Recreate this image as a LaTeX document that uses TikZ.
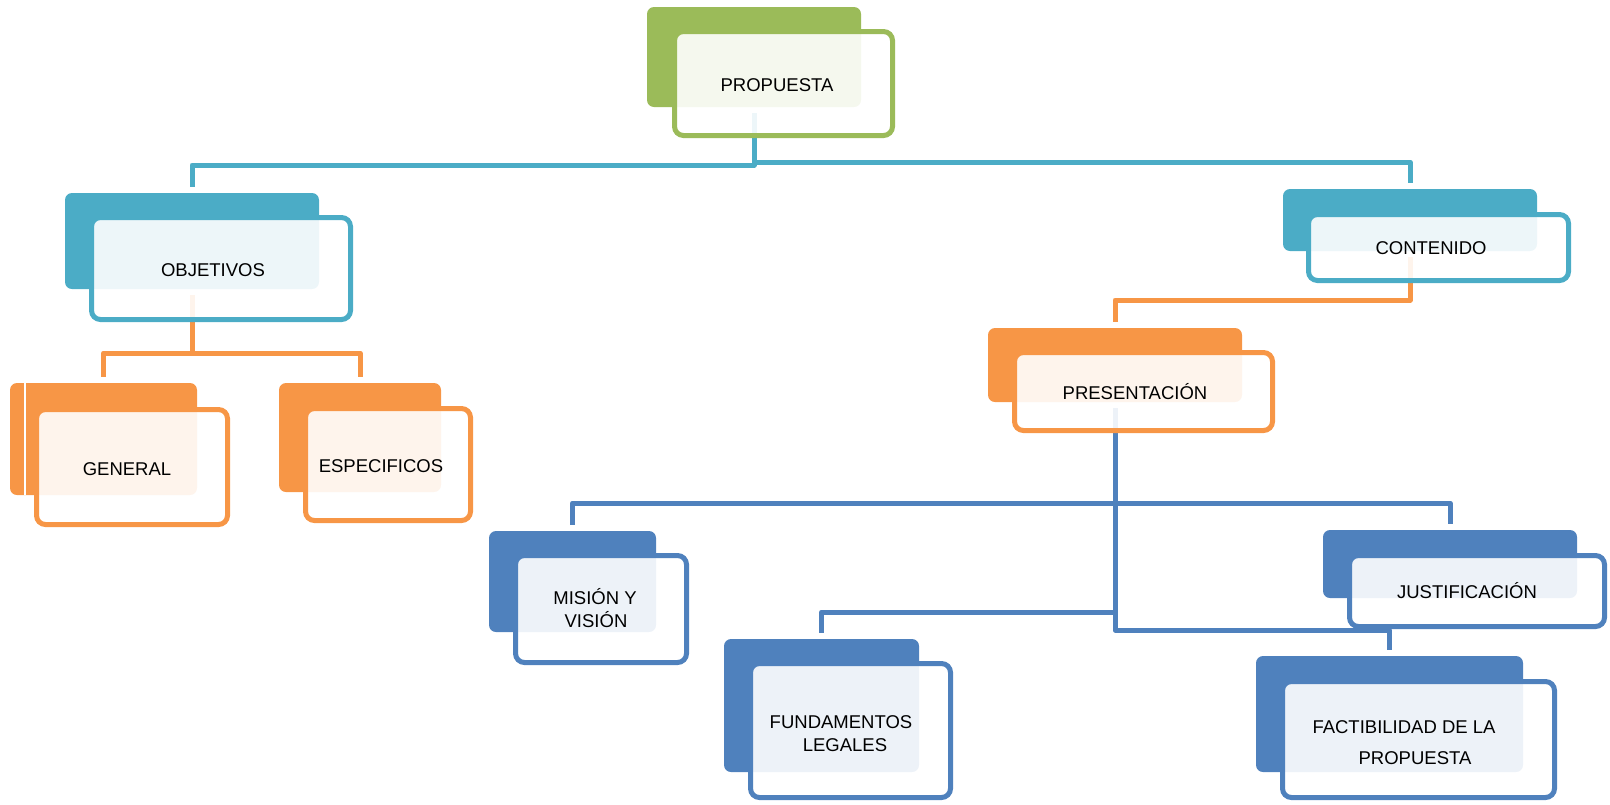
\documentclass[tikz,border=0pt]{standalone}
\usepackage{fontspec}
\setmainfont{Liberation Sans}
\usetikzlibrary{fit}
\definecolor{cgreen}{HTML}{9BBB59}
\definecolor{cteal}{HTML}{4BACC6}
\definecolor{corange}{HTML}{F79646}
\definecolor{cblue}{HTML}{4F81BD}
\begin{document}
\begin{tikzpicture}[x=1pt,y=-1pt,
  backbox/.style={fill=#1, draw=none, rounded corners=7pt, inner sep=0pt, outer sep=0pt},
  frontbox/.style={draw=#1, line width=5pt, fill=white, fill opacity=0.9, rounded corners=9pt, inner sep=0pt, outer sep=0pt},
  txt/.style={font=\fontsize{18.5}{23}\selectfont, anchor=base, inner sep=0pt, text=black},
  conn/.style={draw=#1, line width=5pt, line join=round},
]
\useasboundingbox (0,0) rectangle (1610,804);
% back boxes
\node[backbox=cgreen,  fit={(647,7) (861,107)}] (propB) {};
\node[backbox=cteal,   fit={(65,193) (319,289)}] (objB) {};
\node[backbox=corange, fit={(10,383) (197,495)}] (genB) {};
\node[backbox=corange, fit={(279,383) (441,492)}] (espB) {};
\node[backbox=cteal,   fit={(1283,189) (1537,251)}] (conB) {};
\node[backbox=corange, fit={(988,328) (1242,402)}] (presB) {};
\node[backbox=cblue,   fit={(489,531) (656,632)}] (misB) {};
\node[backbox=cblue,   fit={(724,639) (919,772)}] (fundB) {};
\node[backbox=cblue,   fit={(1323,530) (1577,598)}] (jusB) {};
\node[backbox=cblue,   fit={(1256,656) (1523,772)}] (factB) {};
\draw[white, line width=1.5pt] ([xshift=15pt]genB.north west) -- ([xshift=15pt]genB.south west);
% connectors
\draw[conn=cteal] ([yshift=-6pt]propB.south) -- ++(0,52) -| ([yshift=6pt]objB.north);
\draw[conn=cteal] ([yshift=-6pt]propB.south) -- ++(0,49) -| ([yshift=6pt]conB.north);
\draw[conn=corange] ([yshift=-6pt]objB.south) -- ++(0,58) -| ([yshift=6pt]genB.north);
\draw[conn=corange] ([yshift=-6pt]objB.south) -- ++(0,58) -| ([yshift=6pt]espB.north);
\draw[conn=corange] ([yshift=-6pt]conB.south) -- ++(0,43) -| ([yshift=6pt]presB.north);
\draw[conn=cblue] ([yshift=-6pt]presB.south) -- ++(0,95) -| ([yshift=6pt]misB.north);
\draw[conn=cblue] ([yshift=-6pt]presB.south) -- ++(0,95) -| ([yshift=6pt]jusB.north);
\draw[conn=cblue] ([yshift=-6pt]presB.south) -- ++(0,204) -| ([yshift=6pt]fundB.north);
\draw[conn=cblue] ([yshift=-6pt]presB.south) -- ++(0,222) -| ([yshift=6pt]factB.north);
% front boxes
\node[frontbox=cgreen,  fit={(674.5,31.5) (892.5,135.5)}] (propF) {};
\node[frontbox=cteal,   fit={(91.5,217.5) (350.5,319.5)}] (objF) {};
\node[frontbox=corange, fit={(36.5,409.5) (227.5,524.5)}] (genF) {};
\node[frontbox=corange, fit={(305.5,408.5) (470.5,520.5)}] (espF) {};
\node[frontbox=cteal,   fit={(1308.5,214.5) (1568.5,280.5)}] (conF) {};
\node[frontbox=corange, fit={(1014.5,352.5) (1272.5,430.5)}] (presF) {};
\node[frontbox=cblue,   fit={(515.5,555.5) (686.5,662.5)}] (misF) {};
\node[frontbox=cblue,   fit={(750.5,663.5) (950.5,797.5)}] (fundF) {};
\node[frontbox=cblue,   fit={(1349.5,555.5) (1604.5,626.5)}] (jusF) {};
\node[frontbox=cblue,   fit={(1282.5,681.5) (1554.5,797.5)}] (factF) {};
% labels
\node[txt] (propT) at (777,91) {PROPUESTA};
\node[txt] (objT) at (213,276) {OBJETIVOS};
\node[txt] (genT) at (127,475) {GENERAL};
\node[txt] (espT) at (381,472) {ESPECIFICOS};
\node[txt] (conT) at (1431,254) {CONTENIDO};
\node[txt] (presT) at (1135,399) {PRESENTACIÓN};
\node[txt] (misT1) at (595,604) {MISIÓN Y};
\node[txt] (misT2) at (596,627) {VISIÓN};
\node[txt] (fundT1) at (841,728) {FUNDAMENTOS};
\node[txt] (fundT2) at (845,751) {LEGALES};
\node[txt] (jusT) at (1467,598) {JUSTIFICACIÓN};
\node[txt] (factT1) at (1404,733) {FACTIBILIDAD DE LA};
\node[txt] (factT2) at (1415,764) {PROPUESTA};
\end{tikzpicture}
\end{document}
